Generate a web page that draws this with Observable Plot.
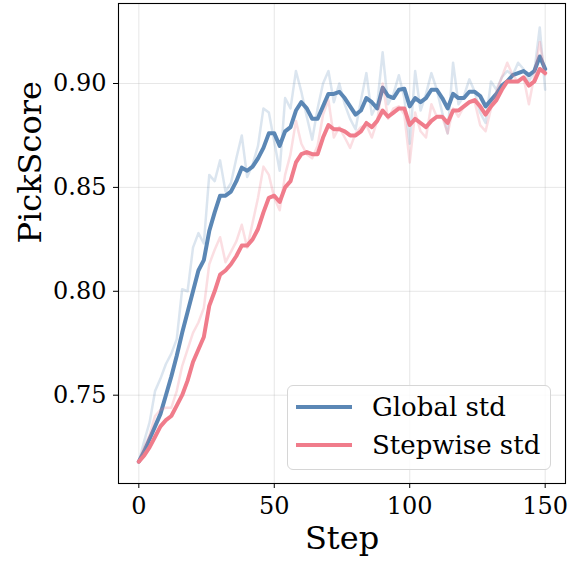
<!DOCTYPE html>
<html><head><meta charset="utf-8">
<script src="https://cdn.jsdelivr.net/npm/d3@7"></script>
<script src="https://cdn.jsdelivr.net/npm/@observablehq/plot@0.6"></script>
<style>
body{margin:0;background:#fff;}
#wrap{position:relative;width:580px;height:561px;}
#legend{position:absolute;left:287px;top:385px;width:264px;height:85px;box-sizing:border-box;border:1px solid #d6d6d6;border-radius:6px;background:rgba(255,255,255,0.85);}
</style></head><body>
<div id="wrap"><div id="legend"></div></div>
<script>
const steps = [0,2,4,6,8,10,12,14,16,18,20,22,24,26,28,30,32,34,36,38,40,42,44,46,48,50,52,54,56,58,60,62,64,66,68,70,72,74,76,78,80,82,84,86,88,90,92,94,96,98,100,102,104,106,108,110,112,114,116,118,120,122,124,126,128,130,132,134,136,138,140,142,144,146,148,150];

const globalRaw = [0.718,0.728,0.737,0.752,0.758,0.765,0.770,0.777,0.801,0.800,0.821,0.828,0.823,0.856,0.853,0.863,0.848,0.852,0.864,0.875,0.855,0.861,0.870,0.888,0.886,0.872,0.858,0.893,0.888,0.906,0.896,0.884,0.873,0.888,0.900,0.906,0.891,0.900,0.890,0.883,0.878,0.892,0.905,0.885,0.890,0.915,0.890,0.895,0.904,0.893,0.871,0.906,0.887,0.895,0.905,0.897,0.886,0.876,0.910,0.890,0.894,0.902,0.896,0.886,0.881,0.901,0.897,0.903,0.906,0.904,0.910,0.907,0.901,0.906,0.927,0.897];

const globalSmooth = [0.718,0.723,0.729,0.735,0.741,0.750,0.759,0.769,0.780,0.790,0.800,0.810,0.815,0.829,0.838,0.846,0.846,0.848,0.853,0.8595,0.858,0.860,0.864,0.869,0.876,0.876,0.870,0.877,0.879,0.887,0.891,0.888,0.883,0.883,0.889,0.895,0.895,0.896,0.893,0.889,0.885,0.887,0.893,0.891,0.888,0.898,0.894,0.893,0.897,0.8975,0.889,0.893,0.891,0.893,0.897,0.897,0.893,0.888,0.895,0.893,0.893,0.896,0.896,0.894,0.889,0.892,0.895,0.899,0.901,0.904,0.905,0.906,0.904,0.906,0.913,0.907];

const stepwiseRaw = [0.718,0.725,0.731,0.740,0.743,0.744,0.744,0.752,0.764,0.772,0.780,0.785,0.792,0.813,0.820,0.826,0.814,0.819,0.824,0.832,0.821,0.833,0.845,0.860,0.856,0.845,0.839,0.856,0.866,0.882,0.871,0.866,0.864,0.870,0.885,0.892,0.874,0.879,0.874,0.869,0.876,0.879,0.880,0.874,0.882,0.900,0.883,0.888,0.889,0.885,0.862,0.886,0.877,0.874,0.890,0.884,0.884,0.876,0.888,0.884,0.889,0.891,0.891,0.880,0.877,0.888,0.896,0.903,0.910,0.904,0.901,0.903,0.890,0.904,0.920,0.904];

const stepwiseSmooth = [0.718,0.721,0.725,0.730,0.735,0.738,0.740,0.745,0.750,0.757,0.766,0.772,0.778,0.793,0.800,0.808,0.810,0.813,0.817,0.822,0.822,0.825,0.830,0.838,0.845,0.846,0.843,0.850,0.853,0.862,0.866,0.867,0.866,0.866,0.874,0.880,0.878,0.878,0.877,0.875,0.875,0.877,0.881,0.879,0.882,0.887,0.884,0.886,0.888,0.888,0.880,0.883,0.881,0.879,0.882,0.884,0.884,0.881,0.887,0.887,0.889,0.891,0.892,0.889,0.885,0.889,0.892,0.897,0.901,0.901,0.901,0.903,0.899,0.901,0.907,0.905];

const seriesNames = ["Global std", "Stepwise std"];
const seriesColors = ["#5b87b5", "#f07c8b"];
const xTicks = [0, 50, 100, 150];
const yTicks = [0.75, 0.80, 0.85, 0.90];
const xLabel = "Step";
const yLabel = "PickScore";

const toRows = (vals) => steps.map((s, i) => ({step: s, value: vals[i]}));
const font = "'DejaVu Serif', 'Liberation Serif', serif";

const chart = Plot.plot({
  width: 580, height: 561,
  marginLeft: 118, marginRight: 15, marginTop: 3, marginBottom: 78,
  style: {fontFamily: font, fontSize: "24px", background: "#fff", color: "#000"},
  x: {domain: [-7.5, 157.5]},
  y: {domain: [0.7075, 0.9385]},
  marks: [
    Plot.gridX(xTicks, {stroke: "#b0b0b0", strokeOpacity: 0.3, strokeWidth: 1}),
    Plot.gridY(yTicks, {stroke: "#b0b0b0", strokeOpacity: 0.3, strokeWidth: 1}),
    Plot.line(toRows(globalRaw), {x: "step", y: "value", stroke: seriesColors[0], strokeOpacity: 0.22, strokeWidth: 2.5, strokeLinejoin: "round"}),
    Plot.line(toRows(globalSmooth), {x: "step", y: "value", stroke: seriesColors[0], strokeWidth: 4, strokeLinejoin: "round", strokeLinecap: "round"}),
    Plot.line(toRows(stepwiseRaw), {x: "step", y: "value", stroke: seriesColors[1], strokeOpacity: 0.25, strokeWidth: 2.5, strokeLinejoin: "round"}),
    Plot.line(toRows(stepwiseSmooth), {x: "step", y: "value", stroke: seriesColors[1], strokeWidth: 4, strokeLinejoin: "round", strokeLinecap: "round"}),
    Plot.frame({stroke: "#000", strokeWidth: 1.1}),
    Plot.axisX({ticks: xTicks, tickSize: 5, tickPadding: 8, fontSize: 24, label: null}),
    Plot.axisY({ticks: yTicks, tickSize: 5, tickPadding: 7, tickFormat: d3.format(".2f"), fontSize: 24, label: null}),
    Plot.text([xLabel], {text: d => d, frameAnchor: "bottom", dy: 55, fontSize: 32, lineAnchor: "middle", fill: "#000"}),
    Plot.text([yLabel], {text: d => d, frameAnchor: "left", dx: -88, rotate: -90, fontSize: 32, lineAnchor: "middle", fill: "#000"})
  ]
});
document.getElementById("wrap").prepend(chart);

// legend
const lg = d3.select("#legend").append("svg").attr("width", 262).attr("height", 83)
  .style("position", "absolute").style("left", "0px").style("top", "0px");
const rowsY = [21, 59];
seriesNames.forEach((name, i) => {
  lg.append("line").attr("x1", 8).attr("x2", 64).attr("y1", rowsY[i]).attr("y2", rowsY[i])
    .attr("stroke", seriesColors[i]).attr("stroke-width", 4);
  lg.append("text").attr("x", 84).attr("y", rowsY[i]).attr("dy", "0.35em")
    .attr("font-family", font).attr("font-size", 26).attr("fill", "#000").text(name);
});
</script>
</body></html>
